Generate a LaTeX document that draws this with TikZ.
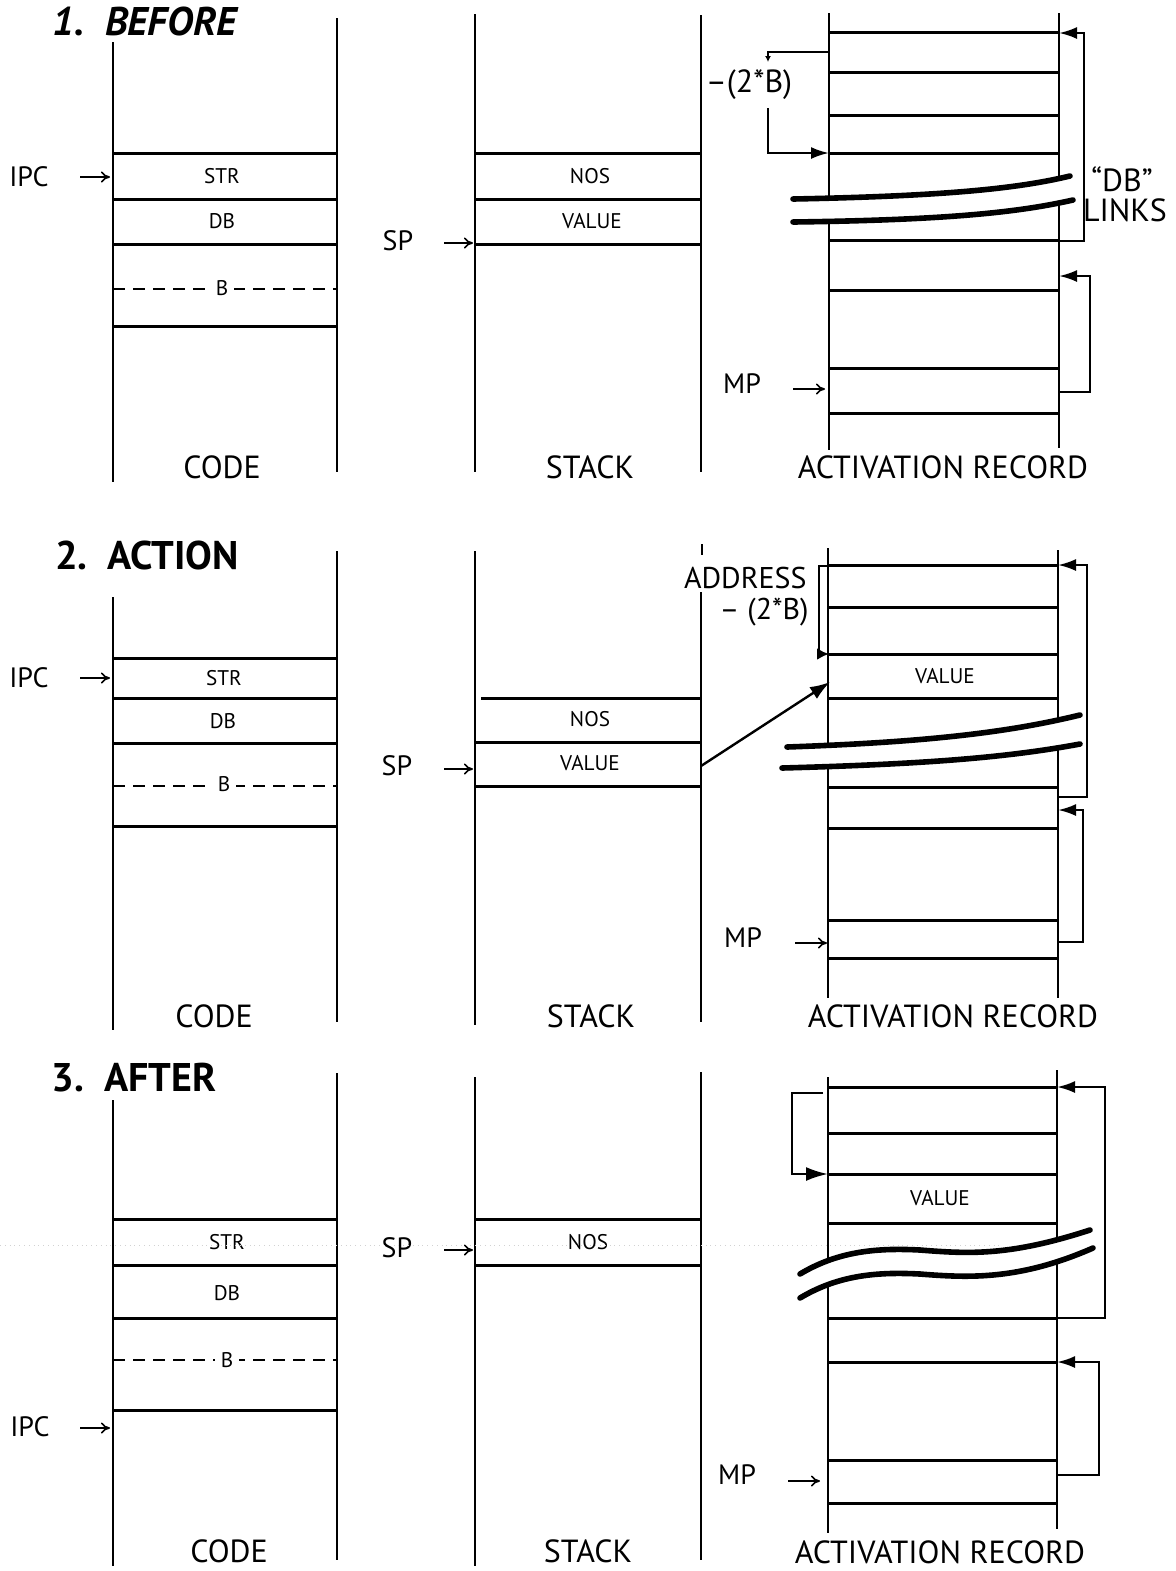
\documentclass[tikz,border=0pt]{standalone}
\usepackage{fontspec}
\setmainfont{PT Sans}
\usetikzlibrary{arrows.meta}
\begin{document}
\begin{tikzpicture}[x=0.5pt,y=-0.5pt,
  vl/.style={line width=1.0pt},
  hl/.style={line width=1.5pt},
  dl/.style={line width=1.2pt,dash pattern=on 6pt off 4pt},
  cell/.style={font=\fontsize{10.6}{12}\selectfont,inner sep=1pt},
  dcell/.style={cell,fill=white,inner sep=3pt},
  ptr/.style={font=\fontsize{14}{16}\selectfont,inner sep=0pt},
  col/.style={font=\fontsize{16}{18}\selectfont,inner sep=0pt},
  ttl/.style={font=\fontsize{20}{23}\selectfont\bfseries,inner sep=0pt},
  ptrarrow/.style={line width=0.8pt,-{To[length=4.5pt,width=5.5pt]}},
  lnk/.style={line width=1.2pt,-{Latex[length=9pt,width=6pt]}},
  brk/.style={line width=2.8pt,line cap=round},
]
\useasboundingbox (0,0) rectangle (1176,1571);

% ================= PANEL 1 : BEFORE =================
\node[ttl] (t1) at (146,21) {\textit{1.\ \ BEFORE}};
% code column
\draw[vl] (113,42) -- (113,482);
\draw[vl] (337,18) -- (337,472);
\foreach \y in {153,199,244,326} \draw[hl] (113,\y) -- (337,\y);
\draw[dl] (113,289) -- (337,289);
\node[cell] (c1str) at (222,176) {STR};
\node[cell] (c1db) at (222,221) {DB};
\node[dcell] (c1b) at (222,288) {B};
\node[ptr] (ipc1) at (29,177) {IPC};
\coordinate (ipc1s) at (80,177); \coordinate (ipc1t) at (110,177);
\draw[ptrarrow] (ipc1s) -- (ipc1t);
\node[col] (code1) at (222,467) {CODE};
% stack column
\draw[vl] (475,14) -- (475,472);
\draw[vl] (701,15) -- (701,472);
\foreach \y in {153,199,244} \draw[hl] (475,\y) -- (701,\y);
\node[cell] (s1nos) at (590,176) {NOS};
\node[cell] (s1val) at (592,221) {VALUE};
\node[ptr] (sp1) at (398,241) {SP};
\coordinate (sp1s) at (444,243); \coordinate (sp1t) at (473,243);
\draw[ptrarrow] (sp1s) -- (sp1t);
\node[col] (stack1) at (590,467) {STACK};
% activation record
\draw[vl] (829,13) -- (829,450);
\draw[vl] (1059,13) -- (1059,448);
\foreach \y in {32,72,115,153,240,290,368,413} \draw[hl] (829,\y) -- (1059,\y);
\fill[white] (793,199) .. controls (950,196) and (1020,188) .. (1070,176)
   -- (1073,200) .. controls (1020,212) and (950,220) .. (793,222) -- cycle;
\draw[brk] (793,199) .. controls (950,196) and (1020,188) .. (1070,176);
\draw[brk] (793,222) .. controls (950,220) and (1020,212) .. (1073,200);
\node[col,fill=white,inner sep=1pt] (m2b1) at (749,85) {–(2*B)};
\coordinate (a1top) at (829,52);
\coordinate (a1k1) at (768,52);
\coordinate (a1k2) at (768,62);
\draw[line width=1.2pt,-{Latex[length=3pt,width=3pt]}] (a1top) -- (a1k1) -- (a1k2);
\coordinate (a1s) at (768,108);
\coordinate (a1t) at (829,153);
\draw[lnk] (a1s) |- (a1t);
\coordinate (db1a) at (1059,241); \coordinate (db1b) at (1084,33); \coordinate (db1c) at (1059,33);
\draw[lnk] (db1a) -| (db1b) -- (db1c);
\node[col] (dbq) at (1122,179) {“DB”};
\node[col] (links) at (1125,210) {LINKS};
\coordinate (mp1a) at (1059,392); \coordinate (mp1b) at (1090,276); \coordinate (mp1c) at (1059,276);
\draw[lnk] (mp1a) -| (mp1b) -- (mp1c);
\node[ptr] (mp1) at (742,384) {MP};
\coordinate (mp1s) at (793,389); \coordinate (mp1t) at (825,389);
\draw[ptrarrow] (mp1s) -- (mp1t);
\node[col] (ar1) at (943,467) {ACTIVATION RECORD};

% ================= PANEL 2 : ACTION =================
\node[ttl] (t2) at (147,555) {2.\ \ ACTION};
% code
\draw[vl] (113,597) -- (113,1030);
\draw[vl] (337,551) -- (337,1022);
\foreach \y in {658,698,743,826} \draw[hl] (113,\y) -- (337,\y);
\draw[dl] (113,786) -- (337,786);
\node[cell] (c2str) at (224,678) {STR};
\node[cell] (c2db) at (223,721) {DB};
\node[dcell] (c2b) at (224,784) {B};
\node[ptr] (ipc2) at (29,678) {IPC};
\coordinate (ipc2s) at (80,678); \coordinate (ipc2t) at (110,678);
\draw[ptrarrow] (ipc2s) -- (ipc2t);
\node[col] (code2) at (214,1016) {CODE};
% stack
\draw[vl] (475,551) -- (475,1025);
\draw[vl] (701,592) -- (701,1022);
\draw[vl] (702,544) -- (702,555);
\draw[hl] (481,698) -- (701,698);
\draw[hl] (475,742) -- (701,742);
\draw[hl] (475,786) -- (701,786);
\node[cell] (s2nos) at (590,719) {NOS};
\node[cell] (s2val) at (590,763) {VALUE};
\node[ptr] (sp2) at (397,766) {SP};
\coordinate (sp2s) at (444,769); \coordinate (sp2t) at (473,769);
\draw[ptrarrow] (sp2s) -- (sp2t);
\node[col] (stack2) at (591,1016) {STACK};
% activation record
\draw[vl] (828,548) -- (828,998);
\draw[vl] (1058,550) -- (1058,998);
\foreach \y in {565,607,654,698,787,828,920,958} \draw[hl] (828,\y) -- (1058,\y);
\fill[white] (787,747) .. controls (930,742) and (1010,732) .. (1080,715)
   -- (1080,744) .. controls (1010,757) and (930,764) .. (782,768) -- cycle;
\draw[brk] (787,747) .. controls (930,742) and (1010,732) .. (1080,715);
\draw[brk] (782,768) .. controls (930,764) and (1010,757) .. (1080,744);
\node[cell] (a2val) at (945,676) {VALUE};
\node[col,anchor=east,fill=white,inner sep=1pt,font=\fontsize{15}{17}\selectfont] (addr) at (809,578) {ADDRESS};
\node[col,anchor=east,font=\fontsize{15}{17}\selectfont] (m2b2) at (809,612) {– (2*B)};
\coordinate (b2a) at (828,566); \coordinate (b2b) at (819,566);
\coordinate (b2c) at (819,654); \coordinate (b2d) at (829,654);
\draw[line width=1.2pt,-{Latex[length=6pt,width=6pt]}] (b2a) -- (b2b) -- (b2c) -- (b2d);
\coordinate (v2s) at (701,766); \coordinate (v2t) at (830,682);
\draw[line width=1.2pt,-{Latex[length=10pt,width=7pt]}] (v2s) -- (v2t);
\coordinate (db2a) at (1058,797); \coordinate (db2b) at (1087,565); \coordinate (db2c) at (1058,565);
\draw[lnk] (db2a) -| (db2b) -- (db2c);
\coordinate (mp2a) at (1058,942); \coordinate (mp2b) at (1083,810); \coordinate (mp2c) at (1058,810);
\draw[lnk] (mp2a) -| (mp2b) -- (mp2c);
\node[ptr] (mp2) at (743,938) {MP};
\coordinate (mp2s) at (795,943); \coordinate (mp2t) at (827,943);
\draw[ptrarrow] (mp2s) -- (mp2t);
\node[col] (ar2) at (953,1016) {ACTIVATION RECORD};

% ================= PANEL 3 : AFTER =================
\node[ttl] (t3) at (134,1078) {3.\ \ AFTER};
% code
\draw[vl] (113,1100) -- (113,1566);
\draw[vl] (337,1073) -- (337,1560);
\foreach \y in {1219,1265,1318,1410} \draw[hl] (113,\y) -- (337,\y);
\draw[dl] (113,1360) -- (337,1360);
\node[cell] (c3str) at (227,1242) {STR};
\node[cell] (c3db) at (227,1293) {DB};
\node[dcell] (c3b) at (227,1360) {B};
\node[ptr] (ipc3) at (30,1427) {IPC};
\coordinate (ipc3s) at (80,1428); \coordinate (ipc3t) at (110,1428);
\draw[ptrarrow] (ipc3s) -- (ipc3t);
\node[col] (code3) at (229,1551) {CODE};
% stack
\draw[vl] (475,1077) -- (475,1566);
\draw[vl] (701,1072) -- (701,1560);
\foreach \y in {1219,1265} \draw[hl] (475,\y) -- (701,\y);
\node[cell] (s3nos) at (588,1242) {NOS};
\node[ptr] (sp3) at (397,1248) {SP};
\coordinate (sp3s) at (444,1250); \coordinate (sp3t) at (473,1250);
\draw[ptrarrow] (sp3s) -- (sp3t);
\node[col] (stack3) at (588,1551) {STACK};
% activation record
\draw[vl] (828,1077) -- (828,1533);
\draw[vl] (1057,1070) -- (1057,1529);
\foreach \y in {1087,1133,1174,1223,1318,1362,1460,1503} \draw[hl] (828,\y) -- (1057,\y);
\fill[white] (800,1274) .. controls (840,1250) and (880,1248) .. (920,1250)
   .. controls (970,1254) and (1010,1256) .. (1090,1230)
   -- (1093,1248) .. controls (1020,1280) and (970,1278) .. (920,1274)
   .. controls (880,1272) and (840,1274) .. (800,1298) -- cycle;
\draw[brk] (800,1274) .. controls (840,1250) and (880,1248) .. (920,1250)
   .. controls (970,1254) and (1010,1256) .. (1090,1230);
\draw[brk] (800,1298) .. controls (840,1274) and (880,1272) .. (920,1274)
   .. controls (970,1278) and (1020,1280) .. (1093,1248);
\node[cell] (a3val) at (940,1198) {VALUE};
\coordinate (l3a) at (823,1093); \coordinate (l3b) at (792,1174); \coordinate (l3c) at (828,1174);
\draw[line width=1.2pt,-{Latex[length=11pt,width=7pt]}] (l3a) -| (l3b) -- (l3c);
\coordinate (db3a) at (1057,1318); \coordinate (db3b) at (1105,1087); \coordinate (db3c) at (1057,1087);
\draw[lnk] (db3a) -| (db3b) -- (db3c);
\coordinate (mp3a) at (1057,1475); \coordinate (mp3b) at (1099,1362); \coordinate (mp3c) at (1057,1362);
\draw[lnk] (mp3a) -| (mp3b) -- (mp3c);
\node[ptr] (mp3) at (737,1475) {MP};
\coordinate (mp3s) at (788,1481); \coordinate (mp3t) at (820,1481);
\draw[ptrarrow] (mp3s) -- (mp3t);
\node[col] (ar3) at (940,1552) {ACTIVATION RECORD};
% faint scan line
\coordinate (scanl) at (0,1245); \coordinate (scanr) at (1000,1245);
\draw[gray!35,line width=0.4pt,dotted] (scanl) -- (scanr);
\end{tikzpicture}
\end{document}
